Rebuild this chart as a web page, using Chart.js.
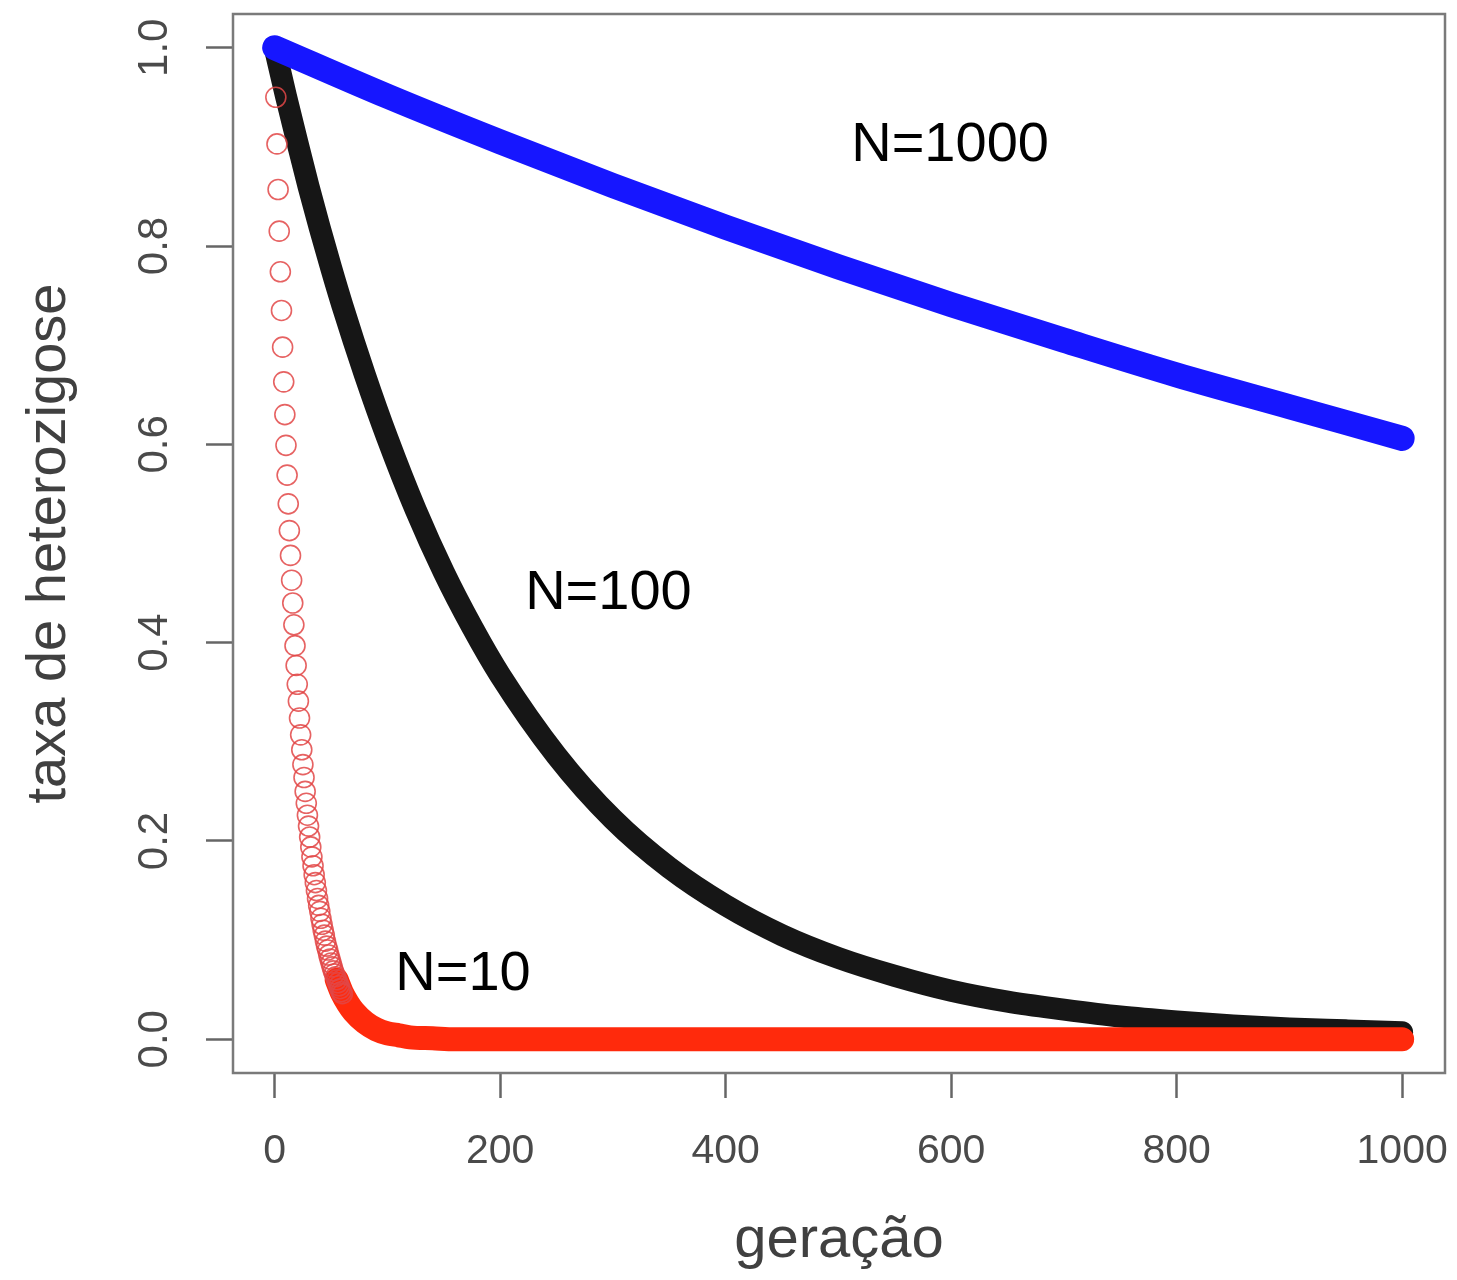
<!DOCTYPE html>
<html>
<head>
<meta charset="utf-8">
<script src="https://cdn.jsdelivr.net/npm/chart.js@4.4.1/dist/chart.umd.min.js"></script>
<style>
  body { margin: 0; background: #fff; }
  canvas { display: block; }
</style>
</head>
<body>
<canvas id="myChart" width="1457" height="1280"></canvas>
<script>
// N=10, every generation while the circles can still be told apart
const gen10 = [0, 1, 2, 3, 4, 5, 6, 7, 8, 9, 10, 11, 12, 13, 14, 15, 16, 17, 18, 19, 20,
  21, 22, 23, 24, 25, 26, 27, 28, 29, 30, 31, 32, 33, 34, 35, 36, 37, 38, 39, 40,
  41, 42, 43, 44, 45, 46, 47, 48, 49, 50, 51, 52, 53, 54, 55, 56, 57, 58, 59, 60];
const het10 = [1.000, 0.950, 0.903, 0.857, 0.815, 0.774, 0.735, 0.698, 0.663, 0.630, 0.599,
  0.569, 0.540, 0.513, 0.488, 0.463, 0.440, 0.418, 0.397, 0.377, 0.358,
  0.341, 0.324, 0.307, 0.292, 0.277, 0.264, 0.250, 0.238, 0.226, 0.215,
  0.204, 0.194, 0.184, 0.175, 0.166, 0.158, 0.150, 0.142, 0.135, 0.129,
  0.122, 0.116, 0.110, 0.105, 0.099, 0.094, 0.090, 0.085, 0.081, 0.077,
  0.073, 0.069, 0.066, 0.063, 0.060, 0.057, 0.054, 0.051, 0.048, 0.046];
// N=10, the solid part of the band
const gen10b = [55, 60, 65, 70, 80, 90, 100, 110, 120, 140, 160, 200, 300, 400, 500, 600, 700, 800, 900, 1000];
const het10b = [0.060, 0.046, 0.036, 0.028, 0.017, 0.010, 0.006, 0.004, 0.002, 0.001, 0, 0, 0, 0, 0, 0, 0, 0, 0, 0];

const gen100 = [0, 10, 20, 30, 40, 50, 60, 80, 100, 125, 150, 175, 200, 250, 300, 350, 400, 450, 500, 550, 600, 650, 700, 750, 800, 850, 900, 950, 1000];
const het100 = [1.000, 0.951, 0.905, 0.860, 0.818, 0.778, 0.740, 0.670, 0.606, 0.534, 0.471, 0.416, 0.367, 0.286, 0.222, 0.173, 0.135, 0.105, 0.082, 0.064, 0.049, 0.038, 0.030, 0.023, 0.018, 0.014, 0.011, 0.009, 0.007];

const gen1000 = [0, 100, 200, 300, 400, 500, 600, 700, 800, 900, 1000];
const het1000 = [1.000, 0.951, 0.905, 0.861, 0.819, 0.779, 0.741, 0.705, 0.670, 0.638, 0.606];

const xTicks = [0, 200, 400, 600, 800, 1000];
const yTicks = [0, 0.2, 0.4, 0.6, 0.8, 1.0];

const notes = ["N=1000", "N=100", "N=10"];
const noteX = [599, 296, 167];
const noteY = [0.901, 0.450, 0.065];

function pts(xs, ys) {
  return xs.map((g, i) => ({ x: g, y: ys[i] }));
}

const FONT = '"Liberation Sans", Arial, Helvetica, sans-serif';

const frame = {
  id: "frame",
  afterDraw(chart) {
    const { ctx, chartArea: a, scales } = chart;
    ctx.save();
    ctx.strokeStyle = "#7a7a7a";
    ctx.lineWidth = 2.5;
    ctx.strokeRect(a.left, a.top, a.right - a.left, a.bottom - a.top);
    ctx.fillStyle = "#000";
    ctx.font = "56px " + FONT;
    ctx.textAlign = "center";
    ctx.textBaseline = "middle";
    for (let i = 0; i < notes.length; i++) {
      ctx.fillText(notes[i], scales.x.getPixelForValue(noteX[i]), scales.y.getPixelForValue(noteY[i]));
    }
    ctx.restore();
  }
};

let mychart = document.getElementById("myChart").getContext("2d");
let chart = new Chart(mychart, {
  type: "scatter",
  data: {
    datasets: [
      {
        data: pts(gen1000, het1000),
        showLine: true,
        borderColor: "#1616ff",
        borderWidth: 25,
        borderCapStyle: "round",
        borderJoinStyle: "round",
        cubicInterpolationMode: "monotone",
        pointRadius: 0
      },
      {
        data: pts(gen10, het10),
        showLine: false,
        pointRadius: 10,
        pointBorderWidth: 1.6,
        pointBorderColor: "rgba(226, 70, 70, 0.85)",
        pointBackgroundColor: "rgba(0,0,0,0)"
      },
      {
        data: pts(gen10b, het10b),
        showLine: true,
        borderColor: "#ff2a0c",
        borderWidth: 24,
        borderCapStyle: "round",
        borderJoinStyle: "round",
        cubicInterpolationMode: "monotone",
        pointRadius: 0
      },
      {
        data: pts(gen100, het100),
        showLine: true,
        borderColor: "#161616",
        borderWidth: 22,
        borderCapStyle: "round",
        borderJoinStyle: "round",
        cubicInterpolationMode: "monotone",
        pointRadius: 0
      }
    ]
  },
  options: {
    responsive: false,
    animation: false,
    layout: { padding: { left: 0, top: 14, right: 12, bottom: 0 } },
    plugins: { legend: { display: false }, tooltip: { enabled: false } },
    scales: {
      x: {
        type: "linear",
        min: -37,
        max: 1038,
        afterBuildTicks: (s) => { s.ticks = xTicks.map((v) => ({ value: v })); },
        afterFit: (s) => { s.height = 207; s.paddingLeft = 0; s.paddingRight = 0; },
        grid: { drawOnChartArea: false, drawTicks: true, tickLength: 25, tickColor: "#666", tickWidth: 2.5 },
        border: { display: false },
        ticks: {
          padding: 29,
          color: "#4a4a4a",
          font: { family: FONT, size: 41 },
          maxRotation: 0,
          callback: (v) => String(v)
        },
        title: {
          display: true,
          text: "geração",
          color: "#404040",
          font: { family: FONT, size: 58 },
          padding: { top: 0, bottom: 4 }
        }
      },
      y: {
        type: "linear",
        min: -0.034,
        max: 1.034,
        afterBuildTicks: (s) => { s.ticks = yTicks.map((v) => ({ value: v })); },
        afterFit: (s) => { s.width = 233; s.paddingTop = 0; s.paddingBottom = 0; },
        grid: { drawOnChartArea: false, drawTicks: true, tickLength: 27, tickColor: "#666", tickWidth: 2.5 },
        border: { display: false },
        ticks: {
          padding: 21,
          color: "#4a4a4a",
          font: { family: FONT, size: 42 },
          minRotation: 90,
          maxRotation: 90,
          crossAlign: "center",
          callback: (v) => v.toFixed(1)
        },
        title: {
          display: true,
          text: "taxa de heterozigose",
          color: "#404040",
          font: { family: FONT, size: 56 },
          padding: { top: 16, bottom: 0 }
        }
      }
    }
  },
  plugins: [frame]
});
</script>
</body>
</html>
